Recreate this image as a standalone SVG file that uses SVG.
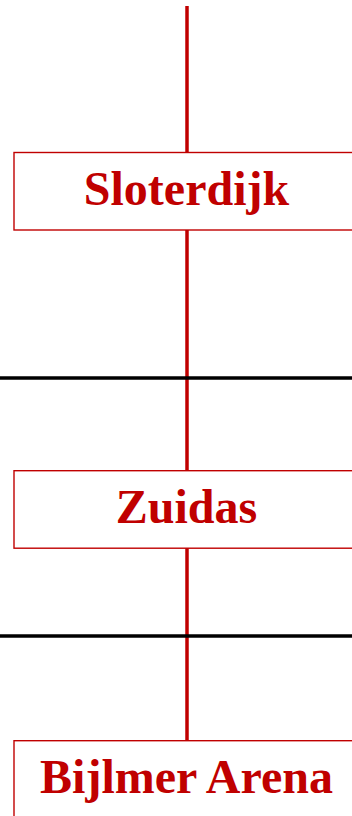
<svg xmlns="http://www.w3.org/2000/svg" width="352" height="816" viewBox="0 0 352 816">
<style>
.edge{stroke:#c00000;stroke-width:3.5;fill:none}
.sep{stroke:#000;stroke-width:3.5;fill:none}
.box{fill:#fff;stroke:#c00000;stroke-width:1.4}
.lbl{font-family:"Liberation Serif","DejaVu Serif",serif;font-weight:bold;font-size:48px;fill:#c00000;text-anchor:middle}
</style>
<rect width="352" height="816" fill="#fff"/>
<g id="connectors">
<line class="edge" x1="187" y1="6" x2="187" y2="152"/>
<line class="edge" x1="187" y1="230" x2="187" y2="471"/>
<line class="edge" x1="187" y1="548" x2="187" y2="741"/>
</g>
<g id="separators">
<line class="sep" x1="0" y1="378" x2="352" y2="378"/>
<line class="sep" x1="0" y1="636" x2="352" y2="636"/>
</g>
<g id="sloterdijk">
<rect class="box" x="14" y="152.5" width="346" height="77.5"/>
<text class="lbl" x="186.5" y="205">Sloterdijk</text>
</g>
<g id="zuidas">
<rect class="box" x="14" y="470.7" width="346" height="77.5"/>
<text class="lbl" x="186.5" y="523">Zuidas</text>
</g>
<g id="bijlmer">
<rect class="box" x="14" y="740.7" width="346" height="90"/>
<text class="lbl" x="186.5" y="793">Bijlmer Arena</text>
</g>
</svg>
